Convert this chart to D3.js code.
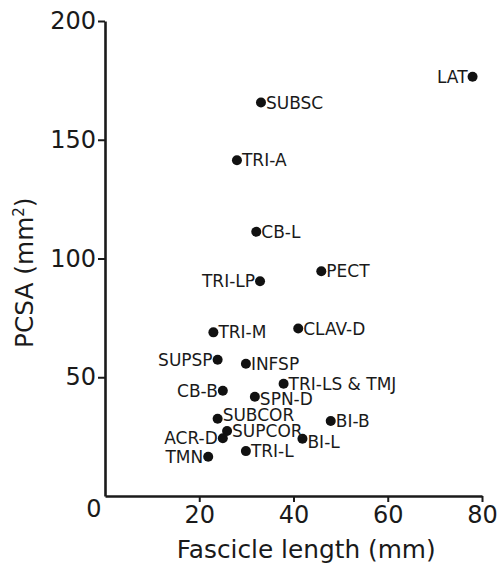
<!DOCTYPE html>
<html lang="en">
<head>
	<meta charset="utf-8">
	<title>PCSA vs fascicle length</title>
	<script src="https://cdn.jsdelivr.net/npm/d3@7/dist/d3.min.js"></script>
	<style>
		body { margin: 0; background: #fff; }
		svg text { font-family: "DejaVu Sans", Verdana, sans-serif; fill: #1a1a1a; }
	</style>
</head>
<body>
<script type="text/javascript">

	// Data
	var muscles = ["LAT", "SUBSC", "TRI-A", "CB-L", "PECT", "TRI-LP", "TRI-M", "CLAV-D",
	               "SUPSP", "INFSP", "TRI-LS & TMJ", "CB-B", "SPN-D", "SUBCOR", "BI-B",
	               "SUPCOR", "ACR-D", "BI-L", "TRI-L", "TMN"];
	var fascicleLength = [78.0, 33.1, 28.0, 32.1, 45.9, 32.9, 23.0, 41.0,
	                      23.9, 29.9, 37.9, 25.0, 31.8, 23.9, 47.9,
	                      25.9, 25.0, 41.9, 29.9, 21.9];
	var pcsa = [176.5, 165.7, 141.4, 111.3, 94.6, 90.4, 68.9, 70.5,
	            57.4, 55.7, 47.3, 44.3, 41.8, 32.5, 31.6,
	            27.4, 24.3, 24.1, 18.9, 16.5];
	// which side of the dot the name goes
	var labelSide = ["left", "right", "right", "right", "right", "left", "right", "right",
	                 "left", "right", "right", "left", "right", "right", "right",
	                 "right", "left", "right", "right", "left"];
	// small vertical nudges (px) so crowded names don't collide
	var labelNudge = [0, 0, 0, 0, 0, 0, 0, 0,
	                  0, 0, 0, 0, 2, -4, 0,
	                  0, 0, 3, 0, 0];

	var xTicks = [20, 40, 60, 80];
	var yTicks = [50, 100, 150, 200];

	// Width and height
	var width = 500;
	var height = 566;
	var margin = {top: 21, right: 18, bottom: 70, left: 105};

	var svg = d3.select("body")
				.append("svg")
				.attr("width", width)
				.attr("height", height);

	var xScale = d3.scaleLinear()
					.domain([0, 80])
					.range([margin.left, width - margin.right]);

	var yScale = d3.scaleLinear()
					.domain([0, 200])
					.range([height - margin.bottom, margin.top]);

	// x axis
	var xAxis = d3.axisBottom(xScale)
				  .tickValues(xTicks)
				  .tickSize(6)
				  .tickSizeOuter(0)
				  .tickPadding(4);

	var gx = svg.append("g")
		.attr("transform", "translate(0," + yScale(0) + ")")
		.call(xAxis);

	// y axis
	var yAxis = d3.axisLeft(yScale)
				  .tickValues(yTicks)
				  .tickSize(7)
				  .tickSizeOuter(0)
				  .tickPadding(2);

	var gy = svg.append("g")
		.attr("transform", "translate(" + xScale(0) + ",0)")
		.call(yAxis);

	// style both axes
	[gx, gy].forEach(function(g) {
		g.select(".domain").attr("stroke", "#1a1a1a").attr("stroke-width", 2.6);
		g.selectAll(".tick line").attr("stroke", "#1a1a1a").attr("stroke-width", 2);
		g.selectAll(".tick text")
			.attr("font-size", 24)
			.attr("font-family", "DejaVu Sans, Verdana, sans-serif")
			.attr("fill", "#1a1a1a");
	});

	// shared origin label
	svg.append("text")
		.attr("x", xScale(0) - 11)
		.attr("y", yScale(0) + 21)
		.attr("text-anchor", "middle")
		.attr("font-size", 24)
		.text("0");

	// axis titles
	svg.append("text")
		.attr("x", xScale(42.7))
		.attr("y", 558)
		.attr("text-anchor", "middle")
		.attr("font-size", 24.8)
		.text("Fascicle length (mm)");

	var yTitle = svg.append("text")
		.attr("transform", "translate(33," + yScale(94) + ") rotate(-90)")
		.attr("text-anchor", "middle")
		.attr("font-size", 24.8);
	yTitle.append("tspan").text("PCSA (mm");
	yTitle.append("tspan").attr("font-size", 15).attr("dy", -9).text("2");
	yTitle.append("tspan").attr("dy", 9).text(")");

	// points
	var idx = d3.range(muscles.length);

	svg.selectAll("circle")
		.data(idx)
		.enter()
			.append("circle")
			.attr("cx", function(i) { return xScale(fascicleLength[i]); })
			.attr("cy", function(i) { return yScale(pcsa[i]); })
			.attr("r", 5)
			.attr("fill", "#111");

	// names next to the dots
	svg.selectAll("text.name")
		.data(idx)
		.enter()
			.append("text")
			.attr("class", "name")
			.attr("x", function(i) {
				return xScale(fascicleLength[i]) + (labelSide[i] == "left" ? -5 : 5);
			})
			.attr("y", function(i) { return yScale(pcsa[i]) + labelNudge[i]; })
			.attr("dy", "0.36em")
			.attr("text-anchor", function(i) { return labelSide[i] == "left" ? "end" : "start"; })
			.attr("font-size", 17)
			.text(function(i) { return muscles[i]; });

</script>
</body>
</html>
